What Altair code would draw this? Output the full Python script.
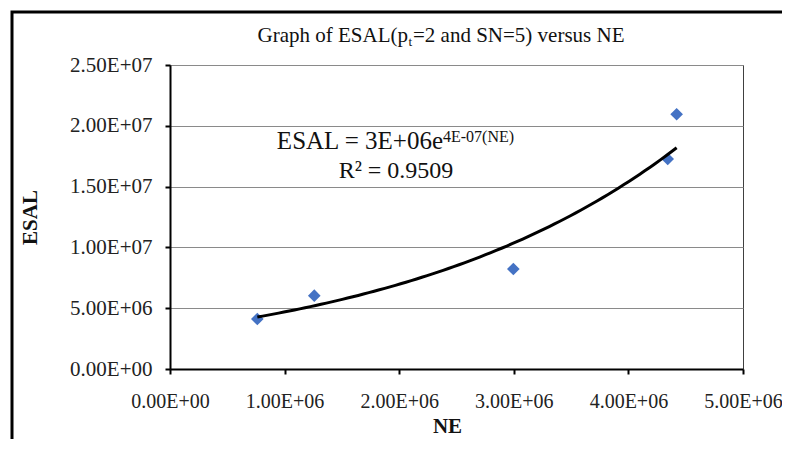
import altair as alt
import numpy as np
import pandas as pd

# ---- data ----
ne = [0.762e6, 1.259e6, 2.996e6, 4.343e6, 4.421e6]
esal = [4.11e6, 6.03e6, 8.22e6, 17.27e6, 20.95e6]

x_ticks = [0, 1e6, 2e6, 3e6, 4e6, 5e6]
x_tick_labels = ["0.00E+00", "1.00E+06", "2.00E+06", "3.00E+06", "4.00E+06", "5.00E+06"]
y_ticks = [0, 5e6, 1e7, 1.5e7, 2e7, 2.5e7]
y_tick_labels = ["0.00E+00", "5.00E+06", "1.00E+07", "1.50E+07", "2.00E+07", "2.50E+07"]

title_main = "Graph of ESAL(p"
title_sub = "t"
title_rest = "=2  and SN=5) versus NE"
eq_main = "ESAL = 3E+06e"
eq_sup = "4E-07(NE)"
r2_text = "R\u00b2 = 0.9509"
x_title = "NE"
y_title = "ESAL"

FONT = "Liberation Serif"

pts = pd.DataFrame({"NE": ne, "ESAL": esal})

# exponential trendline (least squares on ln y, as Excel does)
b, ln_a = np.polyfit(np.array(ne), np.log(np.array(esal)), 1)
xs = np.linspace(min(ne), max(ne), 80)
trend = pd.DataFrame({"NE": xs, "ESAL": np.exp(ln_a + b * xs)})


def label_expr(vals, labels):
    expr = "''"
    for v, l in reversed(list(zip(vals, labels))):
        expr = f"abs(datum.value - {v:.0f}) < 1 ? '{l}' : {expr}"
    return expr


xscale = alt.Scale(domain=[0, 5e6], nice=False, zero=True)
yscale = alt.Scale(domain=[0, 2.5e7], nice=False, zero=True)

xaxis = alt.Axis(
    values=x_ticks, labelExpr=label_expr(x_ticks, x_tick_labels), grid=False,
    title=x_title, titleFont=FONT, titleFontSize=21, titleFontWeight="bold",
    titleColor="#111", titleX=277, titleY=63, titleBaseline="alphabetic",
    titleAlign="center", labelFont=FONT, labelFontSize=20, labelColor="#222",
    labelBaseline="alphabetic", labelPadding=33, labelAlign="center",
    domainColor="#000", domainWidth=2, tickColor="#000", tickWidth=2, tickSize=5,
    labelFlush=False, labelOverlap=False,
)
yaxis = alt.Axis(
    values=y_ticks, labelExpr=label_expr(y_ticks, y_tick_labels), grid=True,
    gridColor="#8a8a8a", gridWidth=1,
    title=y_title, titleFont=FONT, titleFontSize=21, titleFontWeight="bold",
    titleColor="#111", titleX=-140, titleY=152, titleAngle=270,
    titleAlign="center", titleBaseline="middle",
    labelFont=FONT, labelFontSize=21, labelColor="#222", labelPadding=13,
    domainColor="#000", domainWidth=2, tickColor="#000", tickWidth=2, tickSize=5,
    labelFlush=False, labelOverlap=False,
)

points = alt.Chart(pts).mark_point(
    shape="diamond", filled=True, size=160, color="#4472C4", opacity=1
).encode(
    x=alt.X("NE:Q", scale=xscale, axis=xaxis),
    y=alt.Y("ESAL:Q", scale=yscale, axis=yaxis),
)

line = alt.Chart(trend).mark_line(color="#000", strokeWidth=3).encode(
    x=alt.X("NE:Q", scale=xscale),
    y=alt.Y("ESAL:Q", scale=yscale),
)


def txt(s, x, y, size, align="left", weight="normal"):
    return alt.Chart(pd.DataFrame({"t": [s]})).mark_text(
        font=FONT, fontSize=size, align=align, baseline="alphabetic",
        color="#111", fontWeight=weight,
    ).encode(x=alt.value(x), y=alt.value(y), text="t:N")


frame = alt.Chart(pd.DataFrame({"t": [0]})).mark_rect(
    fill=None, stroke="#000", strokeWidth=3
).encode(
    x=alt.value(-158), y=alt.value(-53), x2=alt.value(1000), y2=alt.value(1000)
)

chart = alt.layer(
    frame,
    points,
    line,
    txt(title_main, 238, -23, 21, align="right"),
    txt(title_sub, 238.5, -19, 13),
    txt(title_rest, 243, -23, 21),
    txt(eq_main, 273, 84, 25, align="right"),
    txt(eq_sup, 273, 77, 16),
    txt(r2_text, 226, 113, 24, align="center"),
).properties(
    width=573, height=304,
    autosize=alt.AutoSizeParams(type="none"),
    padding={"left": 162, "top": 57, "right": 39, "bottom": 70},
).configure_view(
    stroke="#404040", strokeWidth=1
)

chart.save("out.html", embed_options={"renderer": "svg", "actions": False})
